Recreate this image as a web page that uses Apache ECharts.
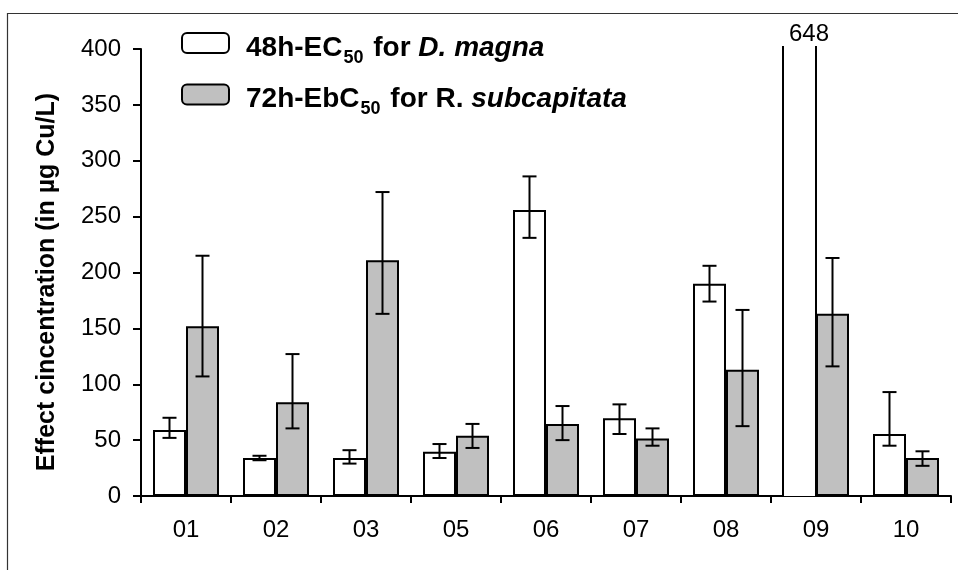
<!DOCTYPE html>
<html>
<head>
<meta charset="utf-8">
<script src="https://cdn.jsdelivr.net/npm/echarts@6/dist/echarts.min.js"></script>
<style>
  html, body { margin: 0; padding: 0; background: #fff; }
  #chart { width: 958px; height: 570px; }
</style>
</head>
<body>
<div id="chart"></div>
<script>
// Sample sites
const sites = ['01', '02', '03', '05', '06', '07', '08', '09', '10'];

// 48h-EC50 for D. magna (µg Cu/L) with confidence limits
const daphniaEC50 = [59, 34, 34, 39.5, 256, 69.5, 190, 648, 55.5];
const daphniaLow  = [52, 32, 29, 34, 231, 55.5, 174, null, 45];
const daphniaHigh = [70, 36, 41, 46.5, 286, 82, 206, null, 93];

// 72h-EbC50 for R. subcapitata (µg Cu/L) with confidence limits
const algaeEbC50 = [152, 84, 211, 54, 64.5, 51.5, 113, 163, 34];
const algaeLow   = [107, 60.5, 163, 43, 50, 45, 62.5, 116, 27];
const algaeHigh  = [215, 127, 272, 64.5, 80.5, 60.5, 166.5, 213, 40];

// Value axis ticks
const yTicks = [0, 50, 100, 150, 200, 250, 300, 350, 400];

const FONT = '"Liberation Sans", Arial, sans-serif';
const BAR_W = 33;
const Y_MAX = yTicks[yTicks.length - 1];

// Values beyond the axis maximum are drawn as open-topped bars
const daphniaBars = daphniaEC50.map(v =>
  v > Y_MAX ? { value: v, itemStyle: { borderWidth: 0 } } : v
);
const brokenBars = daphniaEC50
  .map((v, i) => (v > Y_MAX ? [i, v] : null))
  .filter(d => d);

function errorData(lo, hi) {
  const out = [];
  lo.forEach((l, i) => { if (l != null && hi[i] != null) out.push([i, l, hi[i]]); });
  return out;
}

function errorBars(offset) {
  return function (params, api) {
    const i = api.value(0);
    const pLo = api.coord([i, api.value(1)]);
    const pHi = api.coord([i, api.value(2)]);
    const x = pLo[0] + offset;
    const cap = 7;
    const style = { stroke: '#000', lineWidth: 2 };
    return {
      type: 'group',
      children: [
        { type: 'line', shape: { x1: x, y1: pLo[1], x2: x, y2: pHi[1] }, style },
        { type: 'line', shape: { x1: x - cap, y1: pHi[1], x2: x + cap, y2: pHi[1] }, style },
        { type: 'line', shape: { x1: x - cap, y1: pLo[1], x2: x + cap, y2: pLo[1] }, style }
      ]
    };
  };
}

// Side edges of a bar running off the top of the plot
function openBar(params, api) {
  const i = api.value(0);
  const base = api.coord([i, 0]);
  const top = api.coord([i, Y_MAX]);
  const xr = base[0];
  const xl = base[0] - BAR_W;
  const style = { stroke: '#000', lineWidth: 2 };
  return {
    type: 'group',
    children: [
      { type: 'line', shape: { x1: xl, y1: base[1], x2: xl, y2: top[1] - 3 }, style },
      { type: 'line', shape: { x1: xr, y1: base[1], x2: xr, y2: top[1] - 3 }, style }
    ]
  };
}

const LEG = 28;
const richLegend = {
  pad: { fontFamily: FONT, fontSize: LEG, fontWeight: 'bold', color: '#000', lineHeight: 30, padding: [14, 0, 4, 12] },
  b:   { fontFamily: FONT, fontSize: LEG, fontWeight: 'bold', color: '#000', lineHeight: 30, padding: [14, 0, 4, 0] },
  i:   { fontFamily: FONT, fontSize: LEG, fontWeight: 'bold', fontStyle: 'italic', color: '#000', lineHeight: 30, padding: [14, 0, 4, 0] },
  s:   { fontFamily: FONT, fontSize: 18, fontWeight: 'bold', color: '#000', lineHeight: 18, padding: [30, 2, 0, 1] }
};

const chart = echarts.init(document.getElementById('chart'), null, { renderer: 'canvas' });

chart.setOption({
  backgroundColor: '#fff',
  animation: false,
  grid: { left: 141, right: 7, top: 49, bottom: 74, containLabel: false },
  legend: {
    orient: 'vertical',
    left: 181,
    top: 19,
    padding: 0,
    itemWidth: 47,
    itemHeight: 20,
    itemGap: 3.5,
    selectedMode: false,
    data: ['daphnia', 'algae'],
    formatter: function (name) {
      if (name === 'daphnia') return '{pad|48h-EC}{s|50}{b| for }{i|D. magna}';
      return '{pad|72h-EbC}{s|50}{b| for R. }{i|subcapitata}';
    },
    textStyle: { rich: richLegend }
  },
  xAxis: {
    type: 'category',
    data: sites,
    boundaryGap: true,
    axisLine: { lineStyle: { color: '#000', width: 2 } },
    axisTick: { show: true, length: 7, lineStyle: { color: '#000', width: 2 } },
    axisLabel: { color: '#000', fontFamily: FONT, fontSize: 24, margin: 22 }
  },
  yAxis: {
    type: 'value',
    min: yTicks[0],
    max: Y_MAX,
    interval: 50,
    splitLine: { show: false },
    axisLine: { show: true, lineStyle: { color: '#000', width: 2 } },
    axisTick: { show: true, length: 8, lineStyle: { color: '#000', width: 2 } },
    axisLabel: { color: '#000', fontFamily: FONT, fontSize: 24, margin: 20 }
  },
  graphic: [
    {
      type: 'rect',
      shape: { x: 7.5, y: 13.5, width: 980, height: 600 },
      style: { fill: 'none', stroke: '#333', lineWidth: 1.2 },
      silent: true
    },
    {
      type: 'text',
      x: 47,
      y: 282,
      rotation: Math.PI / 2,
      style: {
        text: 'Effect cincentration (in µg Cu/L)',
        fontFamily: FONT,
        fontSize: 25,
        fontWeight: 'bold',
        fill: '#000',
        textAlign: 'center',
        textVerticalAlign: 'middle'
      }
    }
  ],
  series: [
    {
      name: 'daphnia',
      type: 'bar',
      data: daphniaBars,
      barWidth: BAR_W,
      barGap: '0%',
      clip: true,
      itemStyle: { color: '#ffffff', borderColor: '#000', borderWidth: 2 },
      markPoint: {
        symbol: 'rect',
        symbolSize: 0,
        data: brokenBars.map(d => ({ coord: [sites[d[0]], Y_MAX], value: d[1] })),
        label: {
          show: true,
          position: 'top',
          offset: [9.5, 2],
          formatter: '{c}',
          color: '#000',
          fontFamily: FONT,
          fontSize: 24
        }
      }
    },
    {
      name: 'algae',
      type: 'bar',
      data: algaeEbC50,
      barWidth: BAR_W,
      barGap: '0%',
      itemStyle: { color: '#c0c0c0', borderColor: '#000', borderWidth: 2 }
    },
    {
      type: 'custom',
      data: brokenBars,
      encode: { x: 0, y: 1 },
      renderItem: openBar,
      clip: false,
      z: 4
    },
    {
      type: 'custom',
      data: errorData(daphniaLow, daphniaHigh),
      encode: { x: 0, y: [1, 2] },
      renderItem: errorBars(-BAR_W / 2),
      z: 5
    },
    {
      type: 'custom',
      data: errorData(algaeLow, algaeHigh),
      encode: { x: 0, y: [1, 2] },
      renderItem: errorBars(BAR_W / 2),
      z: 5
    }
  ]
});
</script>
</body>
</html>
